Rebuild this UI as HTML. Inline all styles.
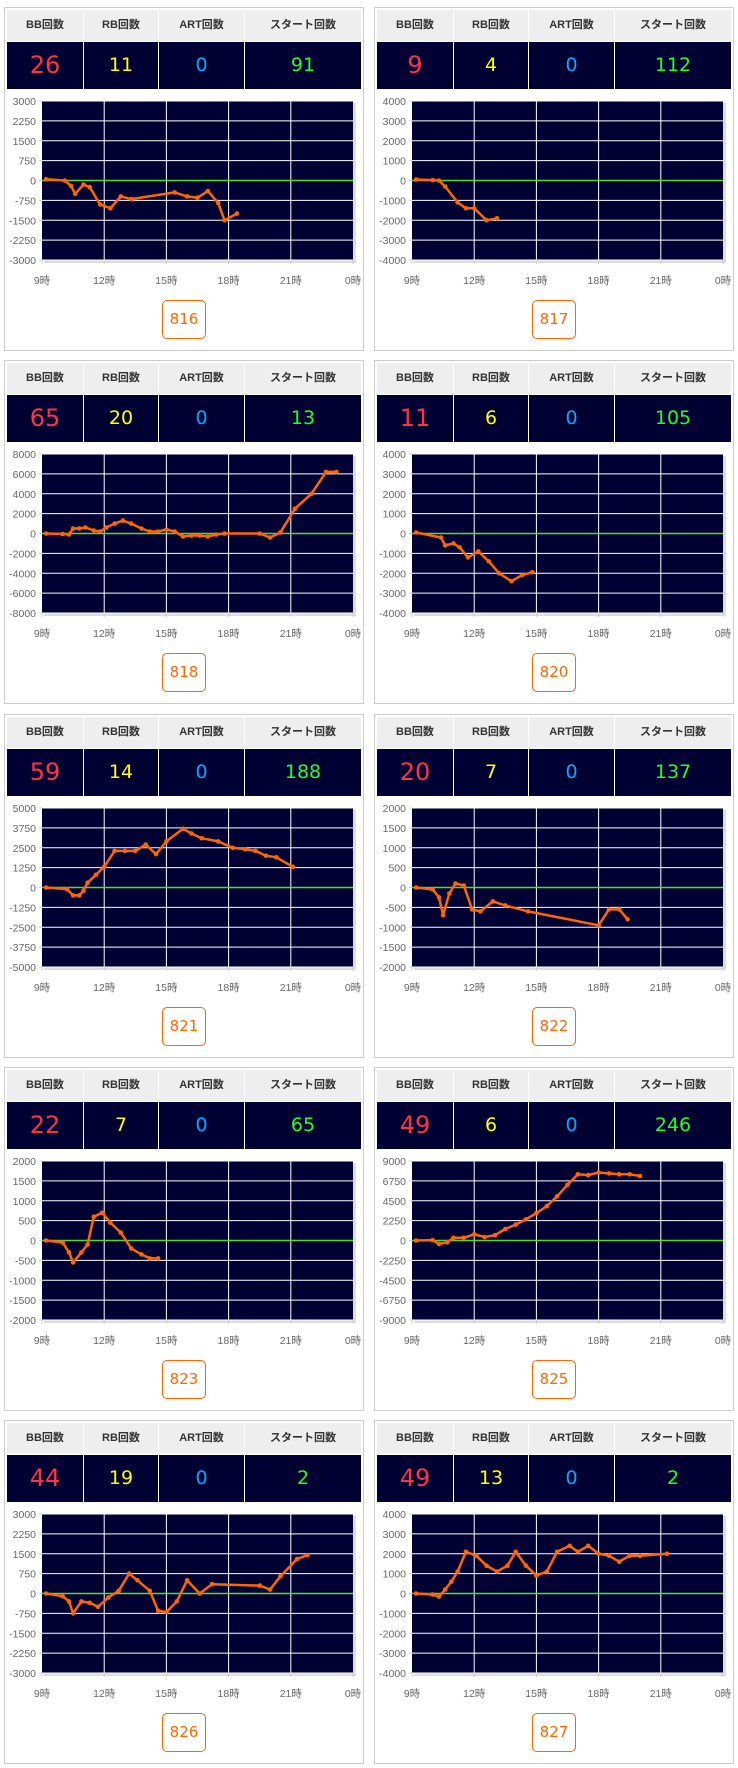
<!DOCTYPE html>
<html><head><meta charset="utf-8"><style>
body{margin:0;background:#fff;width:738px;height:1768px;position:relative;overflow:hidden;font-family:"Liberation Sans","Noto Sans CJK JP",sans-serif}
.p{position:absolute;width:358px;height:342px;border:1px solid #ccc;background:#fff}
.h{position:absolute;top:2px;height:31px;background:#eee;font-size:11px;font-weight:bold;color:#333;text-align:center;line-height:31px}
.v{position:absolute;top:34px;height:47px;background:#000033;text-align:center;line-height:47px;font-size:19px;font-family:"DejaVu Sans",sans-serif}
.btn{position:absolute;left:157px;top:292px;width:42px;height:37px;border:1px solid #f60;border-radius:5px;color:#f60;font-size:15px;text-align:center;line-height:37px;font-family:"DejaVu Sans",sans-serif}
svg{position:absolute;left:0;top:0}
</style></head><body>
<script>
const P=[
["26","11","0","91",3000,"816",[[9.2,50],[10.1,0],[10.4,-200],[10.6,-500],[11,-150],[11.3,-250],[11.8,-900],[12.3,-1050],[12.8,-600],[13.3,-700],[15.4,-450],[16,-600],[16.5,-650],[17,-400],[17.5,-850],[17.8,-1500],[18.4,-1250]]],
["9","4","0","112",4000,"817",[[9.2,50],[10,20],[10.3,0],[10.6,-300],[11.2,-1100],[11.6,-1400],[12,-1400],[12.6,-2000],[13.1,-1900]]],
["65","20","0","13",8000,"818",[[9.2,0],[10,-50],[10.3,-100],[10.5,500],[10.8,500],[11.1,600],[11.5,300],[11.8,200],[12.1,600],[12.5,1000],[12.9,1300],[13.3,1000],[13.8,500],[14.2,200],[14.6,200],[15,400],[15.4,200],[15.8,-300],[16.2,-200],[16.6,-200],[17,-300],[17.4,-100],[17.8,0],[19.5,0],[20,-400],[20.5,100],[21.2,2500],[22,4000],[22.7,6200],[23.2,6200]]],
["11","6","0","105",4000,"820",[[9.2,50],[10.4,-200],[10.6,-600],[11,-500],[11.3,-700],[11.7,-1200],[12.2,-900],[12.7,-1400],[13.2,-2000],[13.8,-2400],[14.3,-2100],[14.8,-1950]]],
["59","14","0","188",5000,"821",[[9.2,0],[10.2,-100],[10.5,-500],[10.8,-500],[11,-200],[11.2,300],[11.6,800],[12,1300],[12.5,2300],[13,2300],[13.5,2300],[14,2700],[14.5,2100],[15,2900],[15.8,3700],[16.2,3400],[16.7,3100],[17.5,2900],[18.2,2500],[18.8,2400],[19.3,2300],[19.8,2000],[20.3,1900],[21.1,1300]]],
["20","7","0","137",2000,"822",[[9.2,0],[10,-50],[10.3,-250],[10.5,-700],[10.8,-150],[11.1,100],[11.5,50],[11.9,-550],[12.3,-600],[12.9,-350],[13.5,-450],[14.6,-600],[18,-950],[18.5,-550],[19,-550],[19.4,-800]]],
["22","7","0","65",2000,"823",[[9.2,0],[10,-50],[10.3,-300],[10.5,-550],[10.9,-300],[11.2,-100],[11.5,600],[11.9,700],[12.3,450],[12.8,200],[13.3,-200],[13.8,-350],[14.2,-450],[14.6,-450]]],
["49","6","0","246",9000,"825",[[9.2,0],[10,50],[10.3,-400],[10.7,-200],[11,300],[11.5,300],[12,700],[12.5,400],[13,600],[13.5,1300],[14,1800],[14.5,2400],[15,3100],[15.5,3900],[16,5000],[16.5,6300],[17,7500],[17.5,7400],[18,7700],[18.5,7600],[19,7500],[19.5,7500],[20,7300]]],
["44","19","0","2",3000,"826",[[9.2,0],[10,-100],[10.3,-300],[10.5,-750],[10.9,-300],[11.3,-350],[11.7,-500],[12.2,-150],[12.7,100],[13.2,750],[13.6,500],[14.2,100],[14.6,-650],[15,-700],[15.5,-300],[16,500],[16.6,0],[17.2,350],[19.5,300],[20,150],[20.5,650],[21.3,1300],[21.8,1450]]],
["49","13","0","2",4000,"827",[[9.2,0],[10,-50],[10.3,-150],[10.6,200],[10.9,600],[11.2,1100],[11.6,2100],[12.1,1900],[12.6,1400],[13.1,1100],[13.6,1400],[14,2100],[14.5,1400],[15,900],[15.5,1100],[16,2100],[16.6,2400],[17,2100],[17.5,2400],[18,2000],[18.5,1900],[19,1600],[19.5,1900],[20,1900],[21.3,2000]]]
];
let out="";
const cols=[[2,76],[79,74],[154,85],[240,116]],hd=["BB回数","RB回数","ART回数","スタート回数"],cc=["#ff3344","#ffff00","#00aaff","#22ff22"];
P.forEach((d,i)=>{
 const L=i%2?374:4,T=7+Math.floor(i/2)*353.3;
 let s=`<div class="p" style="left:${L}px;top:${T}px">`;
 cols.forEach((c,k)=>{s+=`<div class="h" style="left:${c[0]}px;width:${c[1]}px">${hd[k]}</div><div class="v" style="left:${c[0]}px;width:${c[1]}px;color:${cc[k]};${k==0?'font-size:24px':''}">${d[k]}</div>`});
 const x0=37,x1=348,y0=93,y1=252,M=d[4];
 const X=h=>x0+(h-9)/15*(x1-x0),Y=v=>y0+(M-v)/(2*M)*(y1-y0);
 let g=`<svg width="358" height="342"><rect x="${x0+2}" y="${y0+2}" width="${x1-x0+1}" height="${y1-y0+1}" fill="#ddd"/><rect x="${x0}" y="${y0}" width="${x1-x0}" height="${y1-y0}" fill="#000033"/>`;
 for(let j=0;j<=8;j++){const v=M-j*M/4,y=Y(v);g+=`<line x1="${x0}" x2="${x1}" y1="${y}" y2="${y}" stroke="#fff" stroke-width="1"/><text x="${x0-6}" y="${y+4}" font-size="10.5" fill="#666" text-anchor="end">${v}</text><line x1="${x0-3}" x2="${x0}" y1="${y}" y2="${y}" stroke="#ccc"/>`;}
 for(let h=9;h<=24;h+=3){const x=X(h);if(h>9&&h<24)g+=`<line x1="${x}" x2="${x}" y1="${y0}" y2="${y1}" stroke="#fff"/>`;g+=`<line x1="${x}" x2="${x}" y1="${y1}" y2="${y1+4}" stroke="#ccc"/><text x="${x}" y="${y1+24}" font-size="10.5" fill="#666" text-anchor="middle">${h%24}時</text>`;}
 g+=`<line x1="${x0}" x2="${x1}" y1="${Y(0)}" y2="${Y(0)}" stroke="#55dd22" stroke-width="1.5"/>`;
 g+=`<polyline fill="none" stroke="#ff6600" stroke-width="2.5" stroke-linejoin="round" points="${d[6].map(p=>X(p[0]).toFixed(1)+","+Y(p[1]).toFixed(1)).join(" ")}"/>`;
 d[6].forEach(p=>{g+=`<circle cx="${X(p[0]).toFixed(1)}" cy="${Y(p[1]).toFixed(1)}" r="2.3" fill="#ff6600"/>`});
 g+=`</svg>`;
 s+=g+`<div class="btn">${d[5]}</div></div>`;
 out+=s;
});
document.write(out);
</script>
</body></html>
